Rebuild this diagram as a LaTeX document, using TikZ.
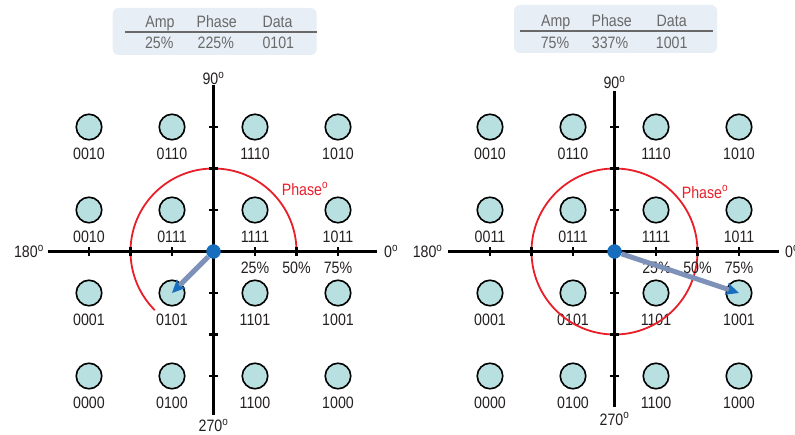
\documentclass[tikz,border=0pt]{standalone}
\usepackage{fontspec}
\setmainfont{Liberation Sans}[FakeStretch=0.86]
\usepackage{tikz}
\usetikzlibrary{arrows.meta,positioning}
\definecolor{qamteal}{RGB}{184,224,224}
\definecolor{qamblack}{RGB}{35,31,32}
\definecolor{qamblue}{RGB}{24,110,190}
\definecolor{qamred}{RGB}{232,30,40}
\definecolor{qamslate}{RGB}{125,145,185}
\definecolor{tblfill}{RGB}{231,238,246}
\definecolor{tblgrey}{RGB}{105,105,105}

\begin{document}
\begin{tikzpicture}[x=1pt, y=1pt,
    qdot/.style={circle, draw=black, line width=1.6pt, fill=qamteal,
                 minimum size=25.5pt, inner sep=0pt},
    bitlbl/.style={font=\fontsize{16.5}{18}\selectfont, text=qamblack, inner sep=1pt},
    axislbl/.style={font=\fontsize{16.5}{18}\selectfont, text=qamblack, inner sep=0pt},
    phaselbl/.style={font=\fontsize{16.5}{18}\selectfont, text=qamred, inner sep=0pt},
    tblbox/.style={rectangle, rounded corners=6pt, fill=tblfill, draw=none},
    tbltxt/.style={font=\fontsize{16.5}{18}\selectfont, text=tblgrey, anchor=base, inner sep=0pt},
    tblrule/.style={draw=tblgrey, line width=2pt},
    ctrdot/.style={circle, fill=qamblue, minimum size=14.5pt, inner sep=0pt},
    axisline/.style={draw=black, line width=2.4pt},
    tickmark/.style={draw=black, line width=2.1pt},
    phasecirc/.style={draw=qamred, line width=1.8pt},
    vecarrow/.style={draw=qamslate, line width=5pt,
                     -{Stealth[length=13pt, width=12pt, inset=3pt, color=qamblue]}}
  ]
  \useasboundingbox (0,0) rectangle (795,434);

  % ---- left: amp 25%, phase 225%
  \node[tblbox, minimum width=204pt, minimum height=47pt] (ltbl) at (214.7,402.5) {};
  \node[tbltxt] (lhamp) at (160,406.7) {Amp};
  \node[tbltxt] (lhph) at (216.7,406.7) {Phase};
  \node[tbltxt] (lhdat) at (277.5,406.7) {Data};
  \draw[tblrule] (125,401.7) -- (ltbl.east |- 0,401.7);
  \node[tbltxt] (lvamp) at (159.3,385.7) {25\%};
  \node[tbltxt] (lvph) at (215.8,385.7) {225\%};
  \node[tbltxt] (lvdat) at (278.3,385.7) {0101};

  \begin{scope}[shift={(213.5,182.5)}]
    \foreach \x/\y/\bits [count=\k] in {-3/3/0010, -1/3/0110, 1/3/1110, 3/3/1010,
        -3/1/0010, -1/1/0111, 1/1/1111, 3/1/1011,
        -3/-1/0001, -1/-1/0101, 1/-1/1101, 3/-1/1001,
        -3/-3/0000, -1/-3/0100, 1/-3/1100, 3/-3/1000} {
      \node[qdot] (ld\k) at (\x*41.5,\y*41.5) {};
      \node[bitlbl, below=6pt of ld\k] (lb\k) {\bits};
    }
    \draw[phasecirc] (83,0) arc[start angle=0, end angle=225, radius=83];
    \coordinate (lw) at (-166,0);
    \coordinate (le) at (163,0);
    \coordinate (ln) at (0,166.5);
    \coordinate (ls) at (0,-163.5);
    \draw[axisline] (lw) -- (le);
    \draw[axisline] (ls) -- (ln);
    \foreach \t in {-124.5,-83,-41.5,41.5,83,124.5} {
      \draw[tickmark] (\t,-4.5) -- (\t,4.5);
      \draw[tickmark] (-4.5,\t) -- (4.5,\t);
    }
    \node[axislbl, anchor=east] (l180) at (-169.5,0) {180\textsuperscript{o}};
    \node[axislbl, anchor=west] (l0) at (170.5,0) {0\textsuperscript{o}};
    \node[axislbl] (l90) at (0,173.2) {90\textsuperscript{o}};
    \node[axislbl] (l270) at (0,-174) {270\textsuperscript{o}};
    \node[axislbl] (lp25) at (41.5,-16) {25\%};
    \node[axislbl] (lp50) at (83,-16) {50\%};
    \node[axislbl] (lp75) at (124.5,-16) {75\%};
    \node[phaselbl] (lphase) at (91.5,62.5) {Phase\textsuperscript{o}};
    \node[ctrdot] (lctr) at (0,0) {};
    \draw[vecarrow] (lctr) -- (ld10.center);
  \end{scope}

  % ---- right: amp 75%, phase 337%
  \node[tblbox, minimum width=203pt, minimum height=48pt] (rtbl) at (615.5,405) {};
  \node[tbltxt] (rhamp) at (555.7,407.3) {Amp};
  \node[tbltxt] (rhph) at (611.7,407.3) {Phase};
  \node[tbltxt] (rhdat) at (671.7,407.3) {Data};
  \draw[tblrule] (520,403.3) -- (712.7,403.3);
  \node[tbltxt] (rvamp) at (555,385.7) {75\%};
  \node[tbltxt] (rvph) at (610,385.7) {337\%};
  \node[tbltxt] (rvdat) at (671.7,385.7) {1001};

  \begin{scope}[shift={(614.5,182.5)}]
    \foreach \x/\y/\bits [count=\k] in {-3/3/0010, -1/3/0110, 1/3/1110, 3/3/1010,
        -3/1/0011, -1/1/0111, 1/1/1111, 3/1/1011,
        -3/-1/0001, -1/-1/0101, 1/-1/1101, 3/-1/1001,
        -3/-3/0000, -1/-3/0100, 1/-3/1100, 3/-3/1000} {
      \node[qdot] (rd\k) at (\x*41.5,\y*41.5) {};
      \node[bitlbl, below=6pt of rd\k] (rb\k) {\bits};
    }
    \draw[phasecirc] (0,0) circle[radius=83];
    \coordinate (rw) at (-166.5,0);
    \coordinate (re) at (164,0);
    \coordinate (rn) at (0,160.7);
    \coordinate (rs) at (0,-155.7);
    \draw[axisline] (rw) -- (re);
    \draw[axisline] (rs) -- (rn);
    \foreach \t in {-124.5,-83,-41.5,41.5,83,124.5} {
      \draw[tickmark] (\t,-4.5) -- (\t,4.5);
      \draw[tickmark] (-4.5,\t) -- (4.5,\t);
    }
    \node[axislbl, anchor=east] (r180) at (-171.8,0) {180\textsuperscript{o}};
    \node[axislbl, anchor=west] (r0) at (170.5,0) {0\textsuperscript{o}};
    \node[axislbl] (r90) at (0,169.2) {90\textsuperscript{o}};
    \node[axislbl] (r270) at (0,-167.5) {270\textsuperscript{o}};
    \node[axislbl] (rp25) at (42,-16.5) {25\%};
    \node[axislbl] (rp50) at (83,-16.5) {50\%};
    \node[axislbl] (rp75) at (124.5,-16.5) {75\%};
    \node[phaselbl] (rphase) at (90.5,59.4) {Phase\textsuperscript{o}};
    \node[ctrdot] (rctr) at (0,0) {};
    \draw[vecarrow] (rctr) -- (rd12.center);
  \end{scope}
\end{tikzpicture}
\end{document}
